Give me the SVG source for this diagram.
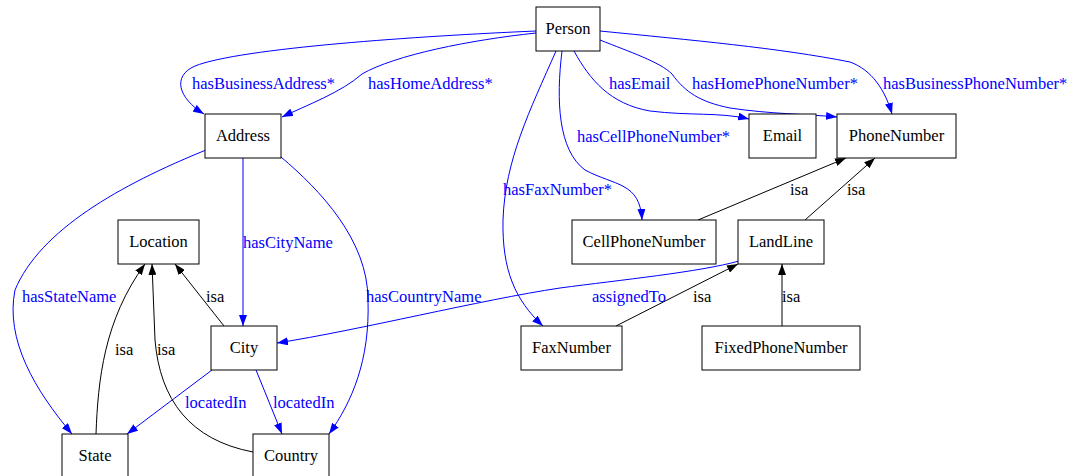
<svg xmlns="http://www.w3.org/2000/svg" width="1079" height="476" viewBox="0 0 1079 476" font-family="'Liberation Serif', 'DejaVu Serif', 'Times New Roman', serif">
  <style>
    .node rect { fill: #ffffff; stroke: #000000; stroke-width: 1; }
    .node text { font-size: 16.5px; fill: #000000; text-anchor: middle; }
    .rel { fill: none; stroke: #0000ff; stroke-width: 1; marker-end: url(#arrowBlue); }
    .isa { fill: none; stroke: #000000; stroke-width: 1; marker-end: url(#arrowBlack); }
    .lbl { font-size: 16.5px; }
    .lbl-rel { fill: #0000ff; }
    .lbl-isa { fill: #000000; }
  </style>
  <defs>
    <marker id="arrowBlue" markerUnits="userSpaceOnUse" markerWidth="11" markerHeight="8" refX="11" refY="4" orient="auto">
      <path d="M0,0 L11,4 L0,8 z" fill="#0000ff"/>
    </marker>
    <marker id="arrowBlack" markerUnits="userSpaceOnUse" markerWidth="11" markerHeight="8" refX="11" refY="4" orient="auto">
      <path d="M0,0 L11,4 L0,8 z" fill="#000000"/>
    </marker>
  </defs>
  <rect width="1079" height="476" fill="#ffffff"/>

  <!-- connectors -->
  <g id="edges">
    <!-- Person properties -->
    <path class="rel" d="M536,31 C420,36 240,48 195,66 C172,76 178,98 204,114"/>
    <path class="rel" d="M536,33 C470,40 395,55 362,74 C342,92 305,106 282,117"/>
    <path class="rel" d="M574,51 C590,80 610,104 650,111 C690,116 720,112 749,119"/>
    <path class="rel" d="M600,40 C630,52 660,62 672,74 C685,92 700,102 730,108 C770,114 805,114 837,117"/>
    <path class="rel" d="M600,31 C690,40 780,48 850,62 C872,70 885,90 892,114"/>
    <path class="rel" d="M562,51 C556,100 558,150 585,170 C615,186 640,182 642,220"/>
    <path class="rel" d="M556,51 C530,110 505,160 503,220 C502,270 515,300 543,326"/>
    <!-- Address properties -->
    <path class="rel" d="M206,150 C120,185 40,230 15,290 C5,340 35,390 72,434"/>
    <path class="rel" d="M243,158 L243,326"/>
    <path class="rel" d="M281,157 C320,190 368,240 368,300 C370,360 352,402 329,434"/>
    <!-- City properties -->
    <path class="rel" d="M212,370 L127,434"/>
    <path class="rel" d="M256,370 L282,434"/>
    <!-- LandLine property -->
    <path class="rel" d="M739,261 C700,272 620,280 560,288 C480,300 360,330 277,343"/>
    <!-- subclass links -->
    <path class="isa" d="M224,326 L175,264"/>
    <path class="isa" d="M96,434 C98,380 104,320 145,264"/>
    <path class="isa" d="M253,452 C190,440 160,400 155,340 L152,264"/>
    <path class="isa" d="M698,220 L846,158"/>
    <path class="isa" d="M805,220 L875,158"/>
    <path class="isa" d="M616,326 L738,264"/>
    <path class="isa" d="M782,326 L782,264"/>

    <!-- connector labels -->
    <text class="lbl lbl-rel" x="192" y="89">hasBusinessAddress*</text>
    <text class="lbl lbl-rel" x="368" y="89">hasHomeAddress*</text>
    <text class="lbl lbl-rel" x="609" y="89">hasEmail</text>
    <text class="lbl lbl-rel" x="692" y="89">hasHomePhoneNumber*</text>
    <text class="lbl lbl-rel" x="883" y="89">hasBusinessPhoneNumber*</text>
    <text class="lbl lbl-rel" x="577" y="142">hasCellPhoneNumber*</text>
    <text class="lbl lbl-rel" x="503" y="195">hasFaxNumber*</text>
    <text class="lbl lbl-rel" x="243" y="248">hasCityName</text>
    <text class="lbl lbl-rel" x="22" y="302">hasStateName</text>
    <text class="lbl lbl-rel" x="366" y="302">hasCountryName</text>
    <text class="lbl lbl-rel" x="592" y="302">assignedTo</text>
    <text class="lbl lbl-rel" x="185" y="408">locatedIn</text>
    <text class="lbl lbl-rel" x="273" y="408">locatedIn</text>
    <text class="lbl lbl-isa" x="790" y="195">isa</text>
    <text class="lbl lbl-isa" x="847" y="195">isa</text>
    <text class="lbl lbl-isa" x="206" y="302">isa</text>
    <text class="lbl lbl-isa" x="693" y="302">isa</text>
    <text class="lbl lbl-isa" x="782" y="302">isa</text>
    <text class="lbl lbl-isa" x="115" y="355">isa</text>
    <text class="lbl lbl-isa" x="157" y="355">isa</text>
  </g>

  <!-- nodes -->
  <g id="node-Person" class="node"><rect x="536" y="7" width="64" height="44"/><text x="568" y="34">Person</text></g>
  <g id="node-Address" class="node"><rect x="205" y="114" width="76" height="44"/><text x="243" y="141">Address</text></g>
  <g id="node-Email" class="node"><rect x="749" y="114" width="67" height="44"/><text x="782.5" y="141">Email</text></g>
  <g id="node-PhoneNumber" class="node"><rect x="837" y="114" width="119" height="44"/><text x="896.5" y="141">PhoneNumber</text></g>
  <g id="node-Location" class="node"><rect x="118" y="220" width="81" height="44"/><text x="158.5" y="247">Location</text></g>
  <g id="node-CellPhoneNumber" class="node"><rect x="572" y="220" width="144" height="44"/><text x="644" y="247">CellPhoneNumber</text></g>
  <g id="node-LandLine" class="node"><rect x="738" y="220" width="86" height="44"/><text x="781" y="247">LandLine</text></g>
  <g id="node-City" class="node"><rect x="211" y="326" width="66" height="44"/><text x="244" y="353">City</text></g>
  <g id="node-FaxNumber" class="node"><rect x="521" y="326" width="101" height="44"/><text x="571.5" y="353">FaxNumber</text></g>
  <g id="node-FixedPhoneNumber" class="node"><rect x="702" y="326" width="158" height="44"/><text x="781" y="353">FixedPhoneNumber</text></g>
  <g id="node-State" class="node"><rect x="62" y="434" width="66" height="44"/><text x="95" y="461">State</text></g>
  <g id="node-Country" class="node"><rect x="253" y="434" width="76" height="44"/><text x="291" y="461">Country</text></g>
</svg>
